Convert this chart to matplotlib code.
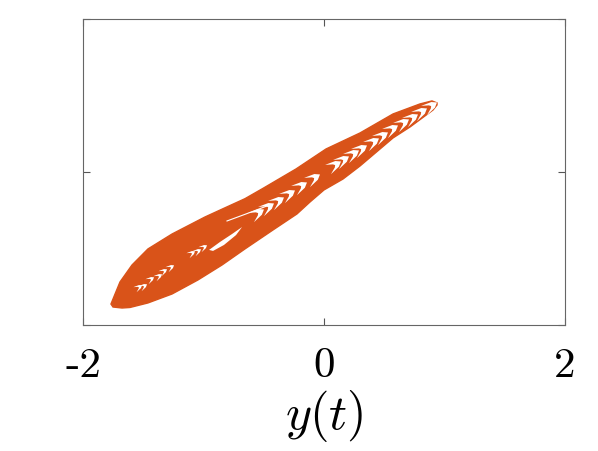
import matplotlib
matplotlib.use('Agg')
import matplotlib.pyplot as plt
from matplotlib.markers import MarkerStyle
from matplotlib.transforms import Affine2D

# outer edge of the trajectory band (x = y(t), y = delayed y)
band_x = [0.938, 0.896, 0.797, 0.573, 0.299, 0.017, -0.232, -0.506, -0.656, -0.830, -0.988,
          -1.261, -1.461, -1.593, -1.693, -1.734, -1.768,
          -1.751, -1.676, -1.610, -1.461,
          -1.261, -1.046, -0.846, -0.656, -0.423, -0.224, -0.116, 0.000, 0.158, 0.299,
          0.573, 0.714, 0.905, 0.938]
band_y = [0.905, 0.931, 0.892, 0.761, 0.513, 0.304, 0.043, -0.210, -0.345, -0.470, -0.584,
          -0.806, -1.001, -1.210, -1.432, -1.589, -1.720,
          -1.759, -1.772, -1.765, -1.706,
          -1.589, -1.406, -1.210, -1.001, -0.753, -0.544, -0.388, -0.231, -0.088, 0.082,
          0.448, 0.591, 0.813, 0.879]

# gaps between strands (white crescents), upper part of the band
gap_x = [0.880, 0.800, 0.720, 0.650, 0.560, 0.470, 0.400, 0.299, 0.230, 0.150, 0.080,
         -0.091, -0.200, -0.300, -0.390, -0.470, -0.560]
gap_y = [0.865, 0.790, 0.705, 0.640, 0.560, 0.470, 0.400, 0.304, 0.240, 0.160, 0.090,
         -0.074, -0.185, -0.280, -0.370, -0.450, -0.535]

# smaller gaps near the lower turn
gap2_x = [-1.000, -1.050, -1.100, -1.278, -1.336, -1.444, -1.502, -1.544, -1.380]
gap2_y = [-0.975, -1.025, -1.060, -1.237, -1.289, -1.394, -1.485, -1.498, -1.360]

# big lens shaped gap
lens_x = [-0.954, -0.863, -0.763, -0.680, -0.730, -0.830, -0.921]
lens_y = [-1.014, -0.910, -0.806, -0.715, -0.820, -0.949, -1.027]

# thin gap line above the lens
streak_x = [-0.805, -0.640, -0.473]
streak_y = [-0.636, -0.540, -0.440]

xticks = [-2, 0, 2]
xticklabels = ['-2', '0', '2']

orange = '#D95319'

plt.rcParams['mathtext.fontset'] = 'cm'

fig = plt.figure(figsize=(5.98, 4.52), dpi=100)
ax = fig.add_axes([0.1388, 0.2777, 0.806, 0.678])

ax.fill(band_x, band_y, color=orange, lw=1.0, ec=orange, zorder=2)
ax.fill(lens_x, lens_y, color='white', lw=0, zorder=3)
ax.plot(streak_x, streak_y, color='white', lw=0.8, zorder=3)

# crescent shaped marker for the gaps
chev = [(0.5, 0.0), (0.2, 0.22), (-0.5, 0.36), (-0.05, 0.12), (0.05, 0.0),
        (-0.05, -0.12), (-0.5, -0.36), (0.2, -0.22)]
chevron = MarkerStyle(chev, transform=Affine2D().rotate_deg(32))
ax.plot(gap_x, gap_y, ls='none', marker=chevron, ms=11, mfc='white', mec='none', zorder=4)
ax.plot(gap2_x, gap2_y, ls='none', marker=chevron, ms=6, mfc='white', mec='none', zorder=4)

ax.set_xlim(-2, 2)
ax.set_ylim(-2, 2)
ax.set_xticks(xticks)
ax.set_xticklabels(xticklabels, fontfamily='cmr10', fontsize=31)
ax.set_yticks([-2, 0, 2])
ax.set_yticklabels([])
ax.tick_params(direction='in', top=True, right=True, length=5, width=0.8,
               color='#555555', pad=15)
for s in ax.spines.values():
    s.set_color('#666666')
    s.set_linewidth(0.8)
ax.set_xlabel('$y(t)$', fontsize=36, labelpad=2)

fig.savefig('out.png', dpi=100)
